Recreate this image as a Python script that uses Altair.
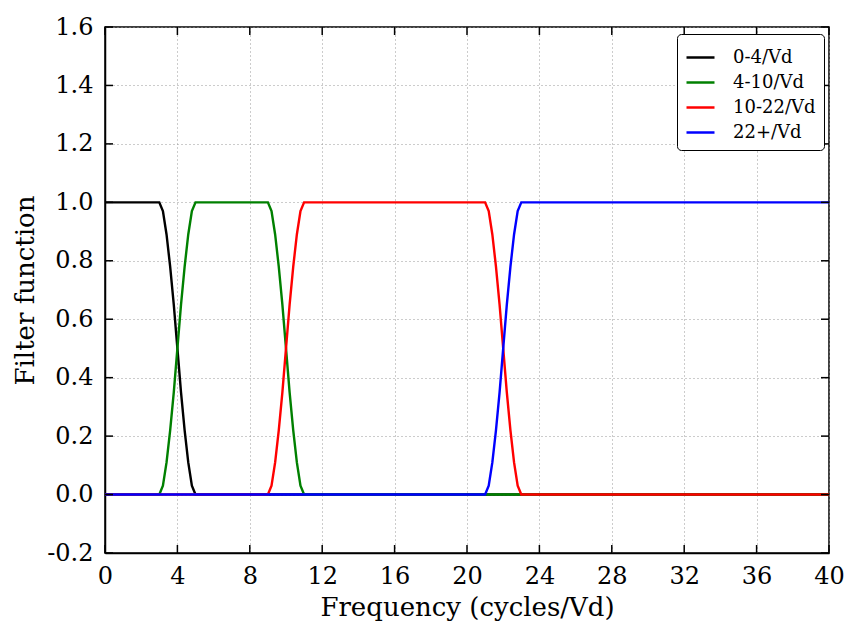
import altair as alt
import pandas as pd

FONT = "DejaVu Serif"

x_ticks = [0, 4, 8, 12, 16, 20, 24, 28, 32, 36, 40]
y_ticks = [-0.2, 0.0, 0.2, 0.4, 0.6, 0.8, 1.0, 1.2, 1.4, 1.6]

series_names = ["0-4/Vd", "4-10/Vd", "10-22/Vd", "22+/Vd"]
series_colors = ["#000000", "#008000", "#ff0000", "#0000ff"]

black_x = [0.0, 3.0, 3.2, 3.4, 3.6, 3.8, 4.0, 4.2, 4.4, 4.6, 4.8, 5.0, 40.0]
black_y = [1.0, 1.0, 0.97, 0.89, 0.78, 0.65, 0.5, 0.35, 0.22, 0.11, 0.03, 0.0, 0.0]

green_x = [0.0, 3.0, 3.2, 3.4, 3.6, 3.8, 4.0, 4.2, 4.4, 4.6, 4.8, 5.0,
           9.0, 9.2, 9.4, 9.6, 9.8, 10.0, 10.2, 10.4, 10.6, 10.8, 11.0, 40.0]
green_y = [0.0, 0.0, 0.03, 0.11, 0.22, 0.35, 0.5, 0.65, 0.78, 0.89, 0.97, 1.0,
           1.0, 0.97, 0.89, 0.78, 0.65, 0.5, 0.35, 0.22, 0.11, 0.03, 0.0, 0.0]

red_x = [0.0, 9.0, 9.2, 9.4, 9.6, 9.8, 10.0, 10.2, 10.4, 10.6, 10.8, 11.0,
         21.0, 21.2, 21.4, 21.6, 21.8, 22.0, 22.2, 22.4, 22.6, 22.8, 23.0, 40.0]
red_y = [0.0, 0.0, 0.03, 0.11, 0.22, 0.35, 0.5, 0.65, 0.78, 0.89, 0.97, 1.0,
         1.0, 0.97, 0.89, 0.78, 0.65, 0.5, 0.35, 0.22, 0.11, 0.03, 0.0, 0.0]

blue_x = [0.0, 21.0, 21.2, 21.4, 21.6, 21.8, 22.0, 22.2, 22.4, 22.6, 22.8, 23.0, 40.0]
blue_y = [0.0, 0.0, 0.03, 0.11, 0.22, 0.35, 0.5, 0.65, 0.78, 0.89, 0.97, 1.0, 1.0]

all_x = [black_x, green_x, red_x, blue_x]
all_y = [black_y, green_y, red_y, blue_y]

rows = []
for name, xs, ys in zip(series_names, all_x, all_y):
    for i, (xv, yv) in enumerate(zip(xs, ys)):
        rows.append({"series": name, "x": xv, "y": yv, "i": i})
df = pd.DataFrame(rows)

W, H = 724, 526
TICK = 8

xscale = alt.Scale(domain=[0, 40], nice=False, zero=False)
yscale = alt.Scale(domain=[-0.2, 1.6], nice=False, zero=False)

xaxis = alt.Axis(values=x_ticks, format="d", title="Frequency (cycles/Vd)",
                 labelFont=FONT, labelFontSize=24, labelColor="black",
                 titleFont=FONT, titleFontSize=26, titleFontWeight="normal",
                 titleColor="black", tickSize=0, labelPadding=11, titlePadding=6,
                 grid=True, gridDash=[1, 3], gridColor="#999999", gridWidth=1,
                 domainColor="black", domainWidth=1.5, labelFlush=False)
yaxis = alt.Axis(values=y_ticks, format=".1f", title="Filter function",
                 labelExpr="replace(datum.label, '\u2212', '-')",
                 labelFont=FONT, labelFontSize=24, labelColor="black",
                 titleFont=FONT, titleFontSize=26, titleFontWeight="normal",
                 titleColor="black", tickSize=0, labelPadding=12, titlePadding=8,
                 grid=True, gridDash=[1, 3], gridColor="#999999", gridWidth=1,
                 domainColor="black", domainWidth=1.5, labelFlush=False)


def X(field="x"):
    return alt.X(f"{field}:Q", scale=xscale, axis=xaxis)


def Y(field="y"):
    return alt.Y(f"{field}:Q", scale=yscale, axis=yaxis)


color = alt.Color("series:N",
                  scale=alt.Scale(domain=series_names, range=series_colors),
                  legend=alt.Legend(title=None, orient="none", legendX=572, legendY=7,
                                    symbolType="stroke", symbolSize=784,
                                    symbolStrokeWidth=2.5, labelFont=FONT,
                                    labelFontSize=18, labelColor="black",
                                    fillColor="white", strokeColor="black",
                                    cornerRadius=4, padding=8, rowPadding=-3,
                                    labelOffset=17))

layers = []
for name in series_names:
    layers.append(
        alt.Chart(df).transform_filter(alt.datum.series == name)
        .mark_line(strokeWidth=2.4, clip=True)
        .encode(x=X(), y=Y(), color=color, order=alt.Order("i:Q"))
    )

xt = pd.DataFrame({"x": x_ticks})
yt = pd.DataFrame({"y": y_ticks})
tick_style = dict(color="black", strokeWidth=1.5)
ticks = [
    alt.Chart(yt).mark_rule(**tick_style).encode(y=Y(), x=alt.value(0), x2=alt.value(TICK)),
    alt.Chart(yt).mark_rule(**tick_style).encode(y=Y(), x=alt.value(W - TICK), x2=alt.value(W)),
    alt.Chart(xt).mark_rule(**tick_style).encode(x=X(), y=alt.value(H), y2=alt.value(H - TICK)),
    alt.Chart(xt).mark_rule(**tick_style).encode(x=X(), y=alt.value(0), y2=alt.value(TICK)),
]

chart = alt.layer(*layers, *ticks).properties(
    width=W, height=H,
    autosize=alt.AutoSizeParams(type="none"),
    padding={"left": 105, "top": 27, "right": 24, "bottom": 75},
    background="white",
).configure_view(stroke="black", strokeWidth=1.5)

chart.save("out.html", embed_options={"renderer": "svg", "actions": False})
